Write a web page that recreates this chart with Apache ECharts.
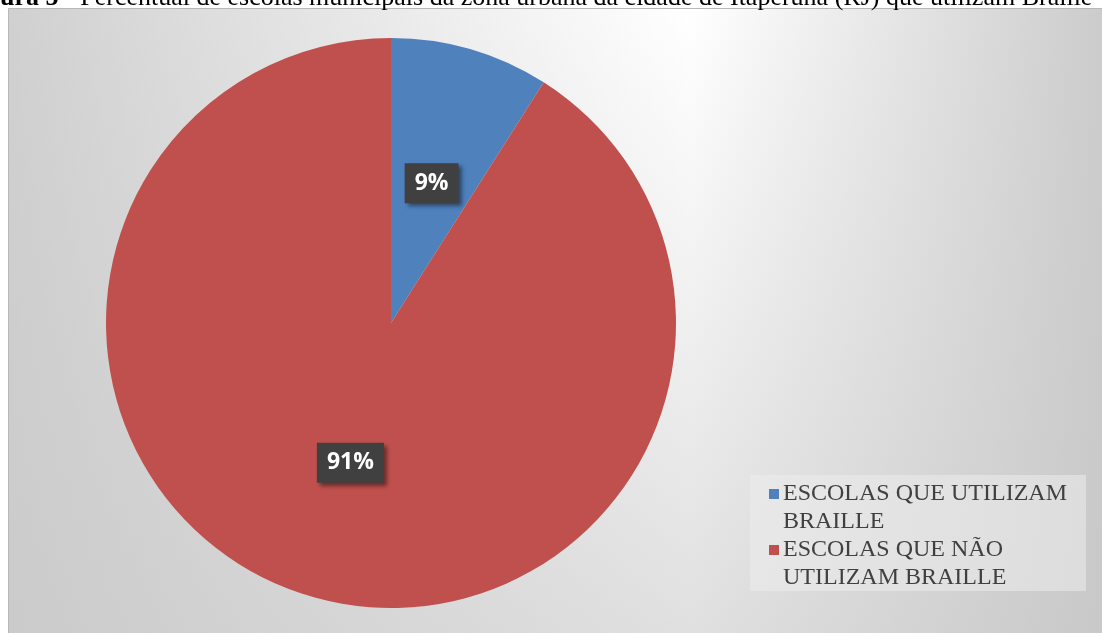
<!DOCTYPE html>
<html>
<head>
<meta charset="utf-8">
<script src="https://cdn.jsdelivr.net/npm/echarts@6/dist/echarts.min.js"></script>
<style>
html,body{margin:0;padding:0;background:#ffffff;}
#chart{width:1102px;height:633px;}
</style>
</head>
<body>
<div id="chart"></div>
<script>
// Data
const categories = ['ESCOLAS QUE UTILIZAM BRAILLE', 'ESCOLAS QUE NÃO UTILIZAM BRAILLE'];
const values = [9, 91];
const colors = ['#4F81BD', '#C0504D'];
const titleBold = 'Figura 5';
const titleRest = ' - Percentual de escolas municipais da zona urbana da cidade de Itaperuna (RJ) que utilizam Braille';

const chart = echarts.init(document.getElementById('chart'));

const option = {
  animation: false,
  color: colors,
  graphic: [
    {
      type: 'rect', z: -10, silent: true,
      shape: { x: 8.5, y: 8.5, width: 1100, height: 630 },
      style: {
        fill: { type: 'linear', x: 0, y: 0, x2: 1, y2: 0, colorStops: [
          { offset: 0, color: '#d0d0d0' },
          { offset: 0.62, color: '#ffffff' },
          { offset: 1, color: '#cbcbcb' }
        ]},
        stroke: '#b8b8b8', lineWidth: 1
      }
    },
    {
      type: 'rect', z: -9, silent: true,
      shape: { x: 9, y: 9, width: 1100, height: 630 },
      style: {
        fill: { type: 'linear', x: 0, y: 0, x2: 0, y2: 1, colorStops: [
          { offset: 0, color: 'rgba(200,200,200,0)' },
          { offset: 1, color: 'rgba(198,198,198,0.55)' }
        ]}
      }
    },
    {
      type: 'rect', z: -8, silent: true,
      shape: { x: 750, y: 475, width: 336, height: 116 },
      style: { fill: 'rgba(236,236,236,0.55)' }
    },
    {
      type: 'text', z: 100, silent: true,
      x: -36, y: -2,
      style: {
        text: '{b|' + titleBold + '}{n|' + titleRest + '}',
        verticalAlign: 'middle',
        rich: {
          b: { fontFamily: 'Liberation Serif', fontSize: 26, fontWeight: 'bold', fill: '#000' },
          n: { fontFamily: 'Liberation Serif', fontSize: 26, fill: '#000' }
        }
      }
    }
  ],
  legend: {
    orient: 'vertical',
    left: 769,
    top: 452,
    icon: 'rect',
    itemWidth: 10,
    itemHeight: 10,
    itemGap: -28,
    padding: 0,
    formatter: function (name) { return '\n' + name; },
    textStyle: {
      fontFamily: 'Liberation Serif',
      fontSize: 24,
      lineHeight: 28,
      color: '#404040',
      width: 300,
      overflow: 'break',
      padding: [0, 0, 0, -1]
    },
    data: categories
  },
  series: [{
    type: 'pie',
    center: [391, 323],
    radius: [0, 285],
    startAngle: 90,
    clockwise: true,
    avoidLabelOverlap: false,
    label: {
      show: true,
      position: 'inside',
      formatter: '{d}%',
      color: '#ffffff',
      fontFamily: 'Open Sans',
      fontWeight: 'bold',
      fontSize: 23,
      lineHeight: 27,
      backgroundColor: '#404040',
      padding: [7, 10, 6, 10],
      shadowColor: 'rgba(0,0,0,0.45)',
      shadowBlur: 4,
      shadowOffsetX: 3,
      shadowOffsetY: 3
    },
    labelLine: { show: false },
    itemStyle: { borderWidth: 0 },
    emphasis: { disabled: true },
    data: categories.map((c, i) => ({ name: c, value: values[i] }))
  }]
};
chart.setOption(option);
</script>
</body>
</html>
